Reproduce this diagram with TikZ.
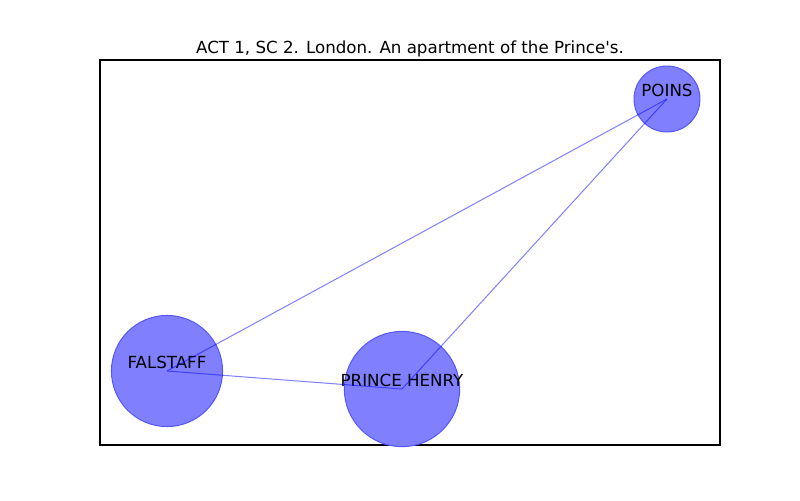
\documentclass[tikz,border=0pt]{standalone}
\usepackage{fontspec}
\setmainfont{DejaVu Sans}[Ligatures=TeXOff]
\usetikzlibrary{positioning}

\definecolor{nodeblue}{RGB}{128,128,255}
\definecolor{rimblue}{RGB}{85,85,255}

\begin{document}
\begin{tikzpicture}
[x=0.72pt,y=-0.72pt,font=\fontsize{12}{14}\selectfont,
 actor/.style={circle,fill=nodeblue,draw=rimblue,line width=0.72pt,inner sep=0pt},
 tie/.style={draw=blue,draw opacity=0.5,line width=0.72pt}]
\useasboundingbox (0,0) rectangle (800,500);
\draw[line width=0.8pt] (100,60) rectangle (720,445);
\node[anchor=base] (title) at (410,53) {ACT 1, SC 2. London. An apartment of the Prince's.};
\node[actor,minimum size=47.5pt,label={[yshift=6.5pt]center:POINS}](poins) at (667,99) {};
\node[actor,minimum size=80pt,label={[yshift=6.5pt]center:FALSTAFF}](falstaff) at (167,371) {};
\node[actor,minimum size=83pt,label={[yshift=6pt]center:PRINCE HENRY}](henry) at (402,389) {};
\path[tie] (falstaff.center) -- (henry.center);
\path[tie] (falstaff.center) -- (poins.center);
\path[tie] (henry.center) -- (poins.center);
\end{tikzpicture}
\end{document}
